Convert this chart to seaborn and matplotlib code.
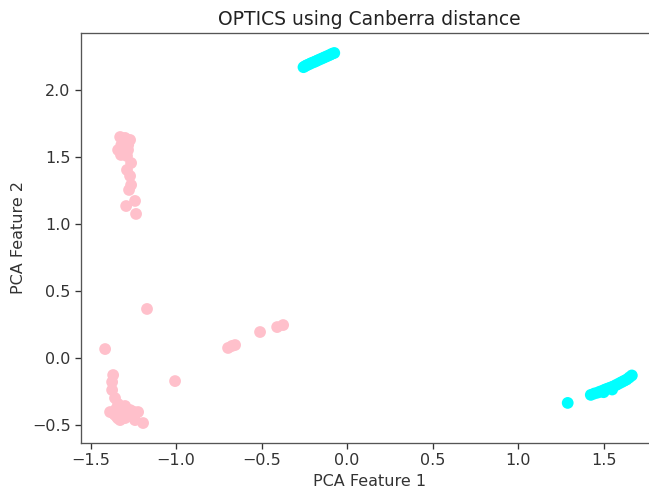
import matplotlib
matplotlib.use("Agg")
import matplotlib.pyplot as plt
import seaborn as sns
import pandas as pd

# OPTICS cluster members projected onto the first two PCA components
pink_x = [-1.327, -1.298, -1.269, -1.339, -1.310, -1.281, -1.322, -1.287, -1.263,
          -1.287, -1.269, -1.263, -1.275, -1.292, -1.240, -1.234,
          -1.300, -1.320, -1.280, -1.305,
          -1.170, -1.415, -1.006, -0.696, -0.673, -0.655, -0.509, -0.409, -0.374,
          -1.368, -1.374, -1.374, -1.357, -1.339, -1.298, -1.269, -1.386, -1.357,
          -1.327, -1.298, -1.257, -1.222, -1.240, -1.193, -1.327, -1.281, -1.345,
          -1.350, -1.310, -1.280, -1.340, -1.300, -1.250, -1.365]
pink_y = [1.649, 1.642, 1.627, 1.552, 1.567, 1.552, 1.515, 1.507, 1.455,
          1.403, 1.358, 1.291, 1.254, 1.134, 1.172, 1.075,
          1.600, 1.590, 1.590, 1.535,
          0.366, 0.067, -0.172, 0.075, 0.090, 0.097, 0.194, 0.231, 0.246,
          -0.127, -0.179, -0.239, -0.299, -0.343, -0.358, -0.388, -0.403, -0.425,
          -0.403, -0.448, -0.433, -0.403, -0.463, -0.485, -0.463, -0.403, -0.440,
          -0.380, -0.420, -0.430, -0.450, -0.380, -0.400, -0.415]

cyan_x = [-0.255, -0.245, -0.235, -0.222, -0.210, -0.196, -0.183, -0.170, -0.156,
          -0.142, -0.128, -0.114, -0.100, -0.088, -0.075,
          1.290, 1.425, 1.445, 1.465, 1.480, 1.500, 1.515, 1.530, 1.545, 1.560,
          1.575, 1.590, 1.605, 1.620, 1.635, 1.650, 1.665, 1.500, 1.550]
cyan_y = [2.170, 2.178, 2.185, 2.192, 2.200, 2.207, 2.214, 2.222, 2.230,
          2.238, 2.246, 2.254, 2.262, 2.270, 2.276,
          -0.335, -0.275, -0.265, -0.258, -0.250, -0.240, -0.232, -0.225, -0.218, -0.210,
          -0.200, -0.190, -0.180, -0.170, -0.160, -0.145, -0.130, -0.255, -0.235]

df = pd.DataFrame({
    "x": pink_x + cyan_x,
    "y": pink_y + cyan_y,
    "cluster": ["A"] * len(pink_x) + ["B"] * len(cyan_x),
})

sns.set_style("ticks")
plt.rcParams["font.family"] = ["DejaVu Sans"]
plt.rcParams["axes.linewidth"] = 0.95
plt.rcParams["xtick.major.width"] = 0.95
plt.rcParams["ytick.major.width"] = 0.95
plt.rcParams["xtick.major.size"] = 4
plt.rcParams["ytick.major.size"] = 4
plt.rcParams["axes.edgecolor"] = "#555555"

fig = plt.figure(figsize=(6.49, 4.91), dpi=100)
ax = fig.add_axes([81 / 649, (491 - 443) / 491, (658 - 81) / 649, (443 - 33) / 491])

sns.scatterplot(data=df, x="x", y="y", hue="cluster",
                palette={"A": "pink", "B": "cyan"},
                s=72, linewidth=0, alpha=1.0, legend=False, ax=ax)

ax.set_xlim(-1.556, 1.818)
ax.set_ylim(-0.634, 2.425)
ax.set_xticks([-1.5, -1.0, -0.5, 0.0, 0.5, 1.0, 1.5])
ax.set_yticks([-0.5, 0.0, 0.5, 1.0, 1.5, 2.0])
ax.tick_params(labelsize=11.5, colors="#333333")
ax.set_title("OPTICS using Canberra distance", fontsize=13.5, color="#222222")
ax.set_xlabel("PCA Feature 1", fontsize=11.5, color="#333333")
ax.set_ylabel("PCA Feature 2", fontsize=11.5, color="#333333")

fig.savefig("out.png", dpi=100)
